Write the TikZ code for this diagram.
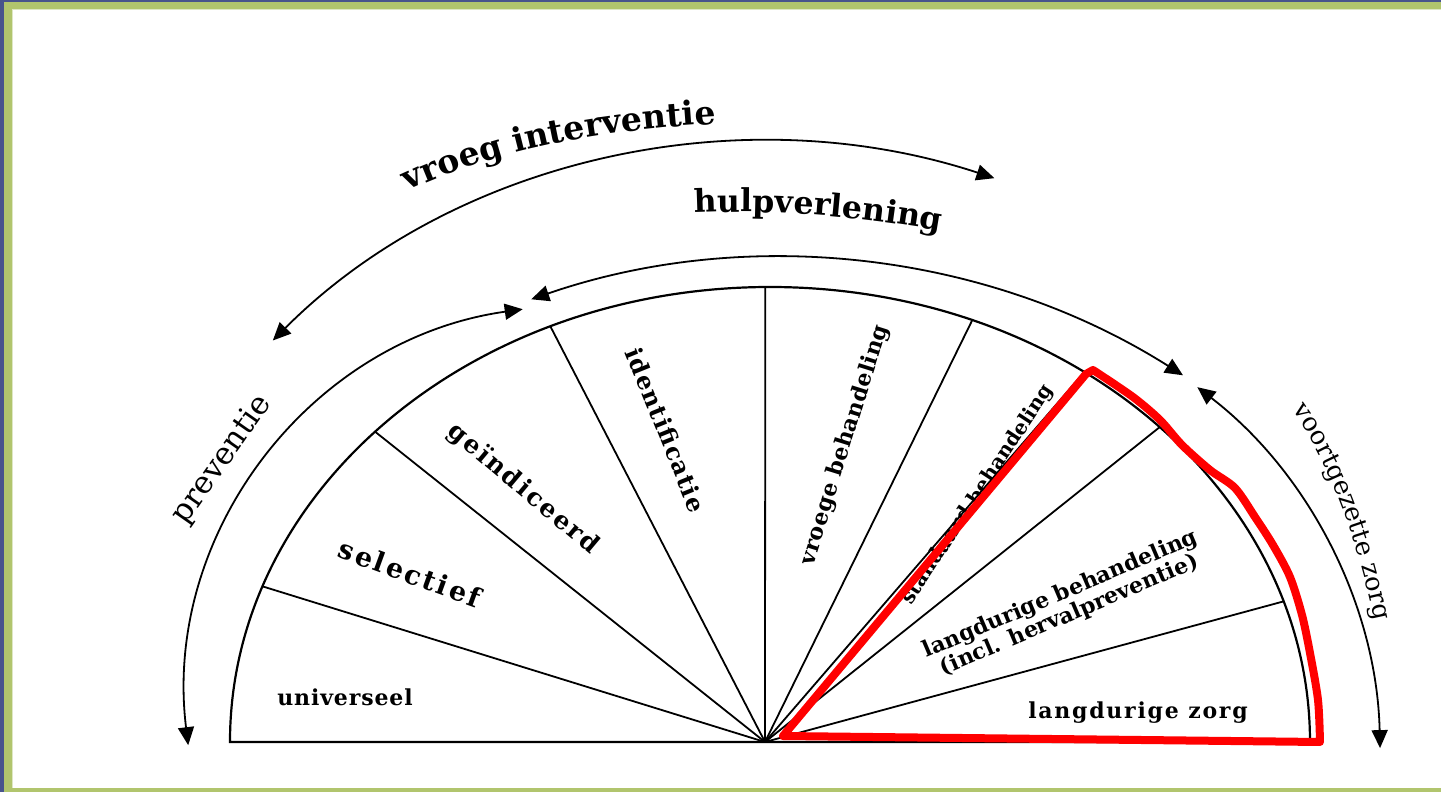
\documentclass[tikz,border=0pt]{standalone}
\usepackage{fontspec}
\setmainfont{DejaVu Serif}
\usetikzlibrary{arrows.meta,decorations.text}
\definecolor{framegreen}{RGB}{177,197,109}
\definecolor{frameblue}{RGB}{72,84,140}
\definecolor{framepale}{RGB}{222,231,196}
\definecolor{markred}{RGB}{255,0,0}
\newcommand\lblfont{\fontsize{22}{22}\selectfont\bfseries}
\newcommand\spaced[1]{\addfontfeature{LetterSpace=#1}}
\newcommand\arcfont{\fontsize{33}{33}\selectfont\bfseries}
\newcommand\hulpfont{\fontsize{31.5}{31.5}\selectfont\bfseries}
\newcommand\sidefont{\fontsize{25.5}{25.5}\selectfont}

\begin{document}
\begin{tikzpicture}[x=1pt,y=1pt]
\tikzset{rim/.style={line width=2.2pt},
  spoke/.style={line width=1.8pt},
  flow/.style={line width=1.8pt,{Triangle[length=18pt,width=16pt]}-{Triangle[length=18pt,width=16pt]}},
  lbl/.style={font=\lblfont,inner sep=0pt},
  marker/.style={draw=markred,line width=8pt,line join=round}}
\pgfmathsetmacro{\ra}{540}
\pgfmathsetmacro{\rb}{455}
\useasboundingbox (-765,-50) rectangle (676,742);
\fill[white] (-765,-50) rectangle (676,742);
\fill[framepale] (-765,731.5) rectangle (676,742);
\fill[framepale] (-765,-50) rectangle (-752,742);
\fill[framegreen] (-765,733) rectangle (676,742);
\fill[framegreen] (-765,-50) rectangle (-753,742);
\fill[framegreen] (-765,-50) rectangle (676,-46);
\fill[frameblue] (-765,739.7) rectangle (676,742);
\fill[frameblue] (-765,-50) rectangle (-761,742);

\coordinate (O) at (0,0);
\draw[rim] (-535,0) arc[start angle=180,end angle=0,x radius=\ra,y radius=\rb] -- cycle;
\foreach \t in {160,137,114,90.5,68,54.4,43.8,18}
{
    \draw[spoke] (O) -- ({5+\ra*cos(\t)},{\rb*sin(\t)});
}

\draw[flow] ({2+665*cos(138)},{600*sin(138)}) arc[start angle=138,end angle=70,x radius=665,y radius=600];
\draw[flow] ({13+758*cos(109)},{-274+758*sin(109)}) arc[start angle=109,end angle=57.7,radius=758];
\draw[flow] ({-187.7+392*cos(187)},{44.6+392*sin(187)}) arc[start angle=187,end angle=98,radius=392];
\draw[flow] ({146.2+469*cos(52.4)},{-16.75+469*sin(52.4)}) arc[start angle=52.4,end angle=1.3,radius=469];

\path[decorate,decoration={text along path,text={|\arcfont|vroeg interventie}}] (-357,551) .. controls (-266,594) and (-135,622) .. (45,620);
\path[decorate,decoration={text along path,text={|\hulpfont|hulpverlening}}] (-70,529) .. controls (20,533) and (110,525) .. (225,502);
\path[decorate,decoration={text along path,text={|\sidefont|voortgezette zorg}}] (527,332) .. controls (572,271) and (603,169) .. (617,80);
\node[font=\fontsize{31}{31}\selectfont,rotate=55,inner sep=0pt] (prev) at (-543,282) {preventie};

\node[lbl,font=\lblfont\spaced{4}] (univ) at (-420,45) {universeel};
\node[lbl,font=\fontsize{27}{27}\selectfont\bfseries\spaced{10},rotate=-20] (sel) at (-355,169) {selectief};
\node[lbl,font=\fontsize{25}{25}\selectfont\bfseries\spaced{9},rotate=-40] (geind) at (-242,253) {geïndiceerd};
\node[lbl,font=\fontsize{24}{24}\selectfont\bfseries\spaced{5},rotate=-68] (ident) at (-99,312) {identificatie};
\node[lbl,font=\lblfont\spaced{2},rotate=72.6] (vroegb) at (80,297) {vroege behandeling};
\node[lbl,font=\fontsize{20}{20}\selectfont\bfseries,rotate=56.6] (stand) at (213,247) {standaard behandeling};
\node[lbl,rotate=23,align=center,font=\fontsize{22}{19}\selectfont\bfseries] (langb) at (300,137) {langdurige behandeling\\(incl. hervalpreventie)};
\node[lbl,font=\lblfont\spaced{8}] (langz) at (373,29) {langdurige zorg};

\draw[marker] (18,6) -- (321,368) -- plot[smooth] coordinates {(328,372) (368,345) (395,322) (417,297) (445,272) (470,254) (490,225) (508,197) (525,165) (537,127) (545,89) (553,42) (555,0)} -- cycle;
\end{tikzpicture}
\end{document}
